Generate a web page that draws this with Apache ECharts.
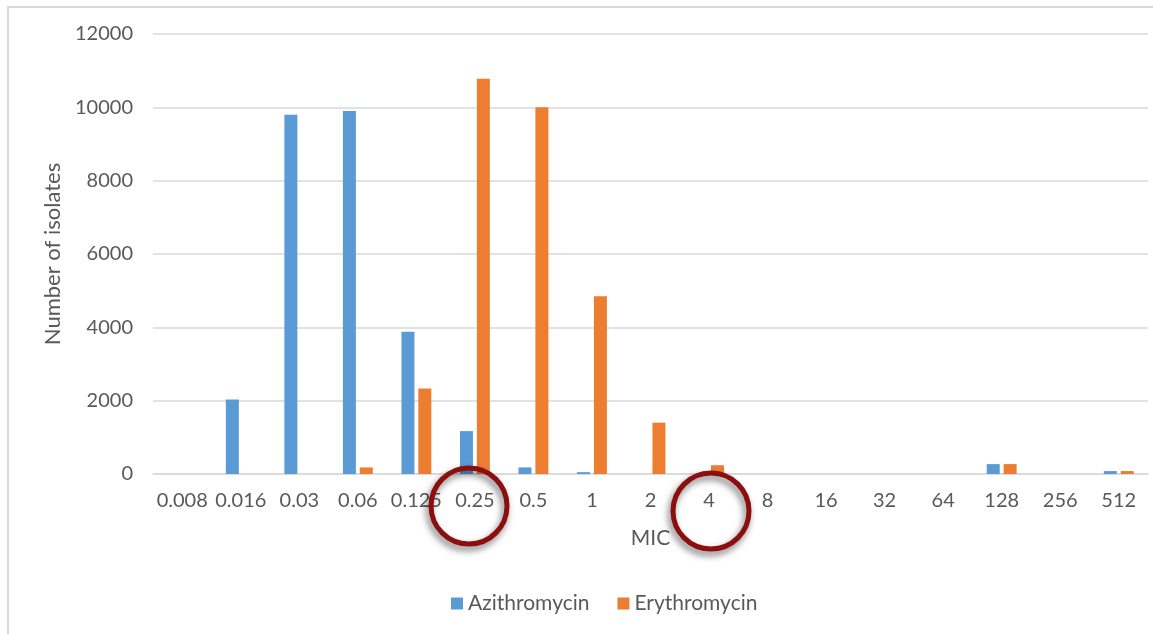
<!DOCTYPE html>
<html>
<head>
<meta charset="utf-8">
<script src="https://cdn.jsdelivr.net/npm/echarts@6/dist/echarts.min.js"></script>
<style>
html,body{margin:0;padding:0;background:#fff;}
#c{width:1153px;height:634px;}
</style>
</head>
<body>
<div id="c"></div>
<script>
const categories = ['0.008','0.016','0.03','0.06','0.125','0.25','0.5','1','2','4','8','16','32','64','128','256','512'];
const azithromycin = [0, 2030, 9800, 9900, 3880, 1170, 180, 50, 0, 0, 0, 0, 0, 0, 270, 0, 80];
const erythromycin = [0, 0, 0, 180, 2330, 10780, 10000, 4850, 1400, 240, 0, 0, 0, 0, 270, 0, 80];
const yTicks = { min: 0, max: 12000, interval: 2000 };

const FONT = 'Lato, "Open Sans", sans-serif';
const chart = echarts.init(document.getElementById('c'), null, { renderer: 'canvas' });

function circleGraphic(cx, cy, r) {
  return {
    type: 'circle',
    shape: { cx: cx, cy: cy, r: r },
    z: 100,
    style: {
      fill: 'none',
      stroke: '#8c0f0f',
      lineWidth: 5,
      shadowBlur: 7,
      shadowColor: 'rgba(0,0,0,0.55)',
      shadowOffsetX: -2,
      shadowOffsetY: 4
    }
  };
}

chart.setOption({
  animation: false,
  backgroundColor: '#ffffff',
  textStyle: { fontFamily: FONT },
  grid: { left: 153, right: 5, top: 34, bottom: 160 },
  legend: {
    data: ['Azithromycin', 'Erythromycin'],
    bottom: 15,
    left: 446,
    itemWidth: 12,
    itemHeight: 12,
    itemGap: 28,
    icon: 'rect',
    textStyle: { color: '#595959', fontSize: 21, fontFamily: FONT }
  },
  xAxis: {
    type: 'category',
    data: categories,
    name: 'MIC',
    nameLocation: 'middle',
    nameGap: 54,
    nameTextStyle: { color: '#595959', fontSize: 21, fontFamily: FONT },
    axisLine: { show: true, lineStyle: { color: '#d9d9d9', width: 1.5 } },
    axisTick: { show: false },
    axisLabel: { color: '#595959', fontSize: 20, margin: 17, interval: 0, fontFamily: FONT }
  },
  yAxis: {
    type: 'value',
    min: yTicks.min,
    max: yTicks.max,
    interval: yTicks.interval,
    name: 'Number of isolates',
    nameLocation: 'middle',
    nameGap: 86,
    nameRotate: 90,
    nameTextStyle: { color: '#595959', fontSize: 22, fontFamily: FONT },
    axisLine: { show: false },
    axisTick: { show: false },
    axisLabel: { color: '#595959', fontSize: 20, margin: 20, fontFamily: FONT, formatter: function (v) { return String(v); } },
    splitLine: { show: true, lineStyle: { color: '#d9d9d9', width: 1.5 } }
  },
  series: [
    {
      name: 'Azithromycin',
      type: 'bar',
      data: azithromycin,
      barWidth: 13,
      barGap: '30%',
      itemStyle: { color: '#5b9bd5' }
    },
    {
      name: 'Erythromycin',
      type: 'bar',
      data: erythromycin,
      barWidth: 13,
      barGap: '30%',
      itemStyle: { color: '#ed7d31' }
    }
  ],
  graphic: [
    {
      type: 'polyline',
      shape: { points: [[8, 634], [8, 7], [1153, 7]] },
      style: { stroke: '#d9d9d9', lineWidth: 2, fill: 'none' },
      z: 1
    },
    circleGraphic(469, 506, 38),
    circleGraphic(711, 511, 38)
  ]
});
</script>
</body>
</html>
